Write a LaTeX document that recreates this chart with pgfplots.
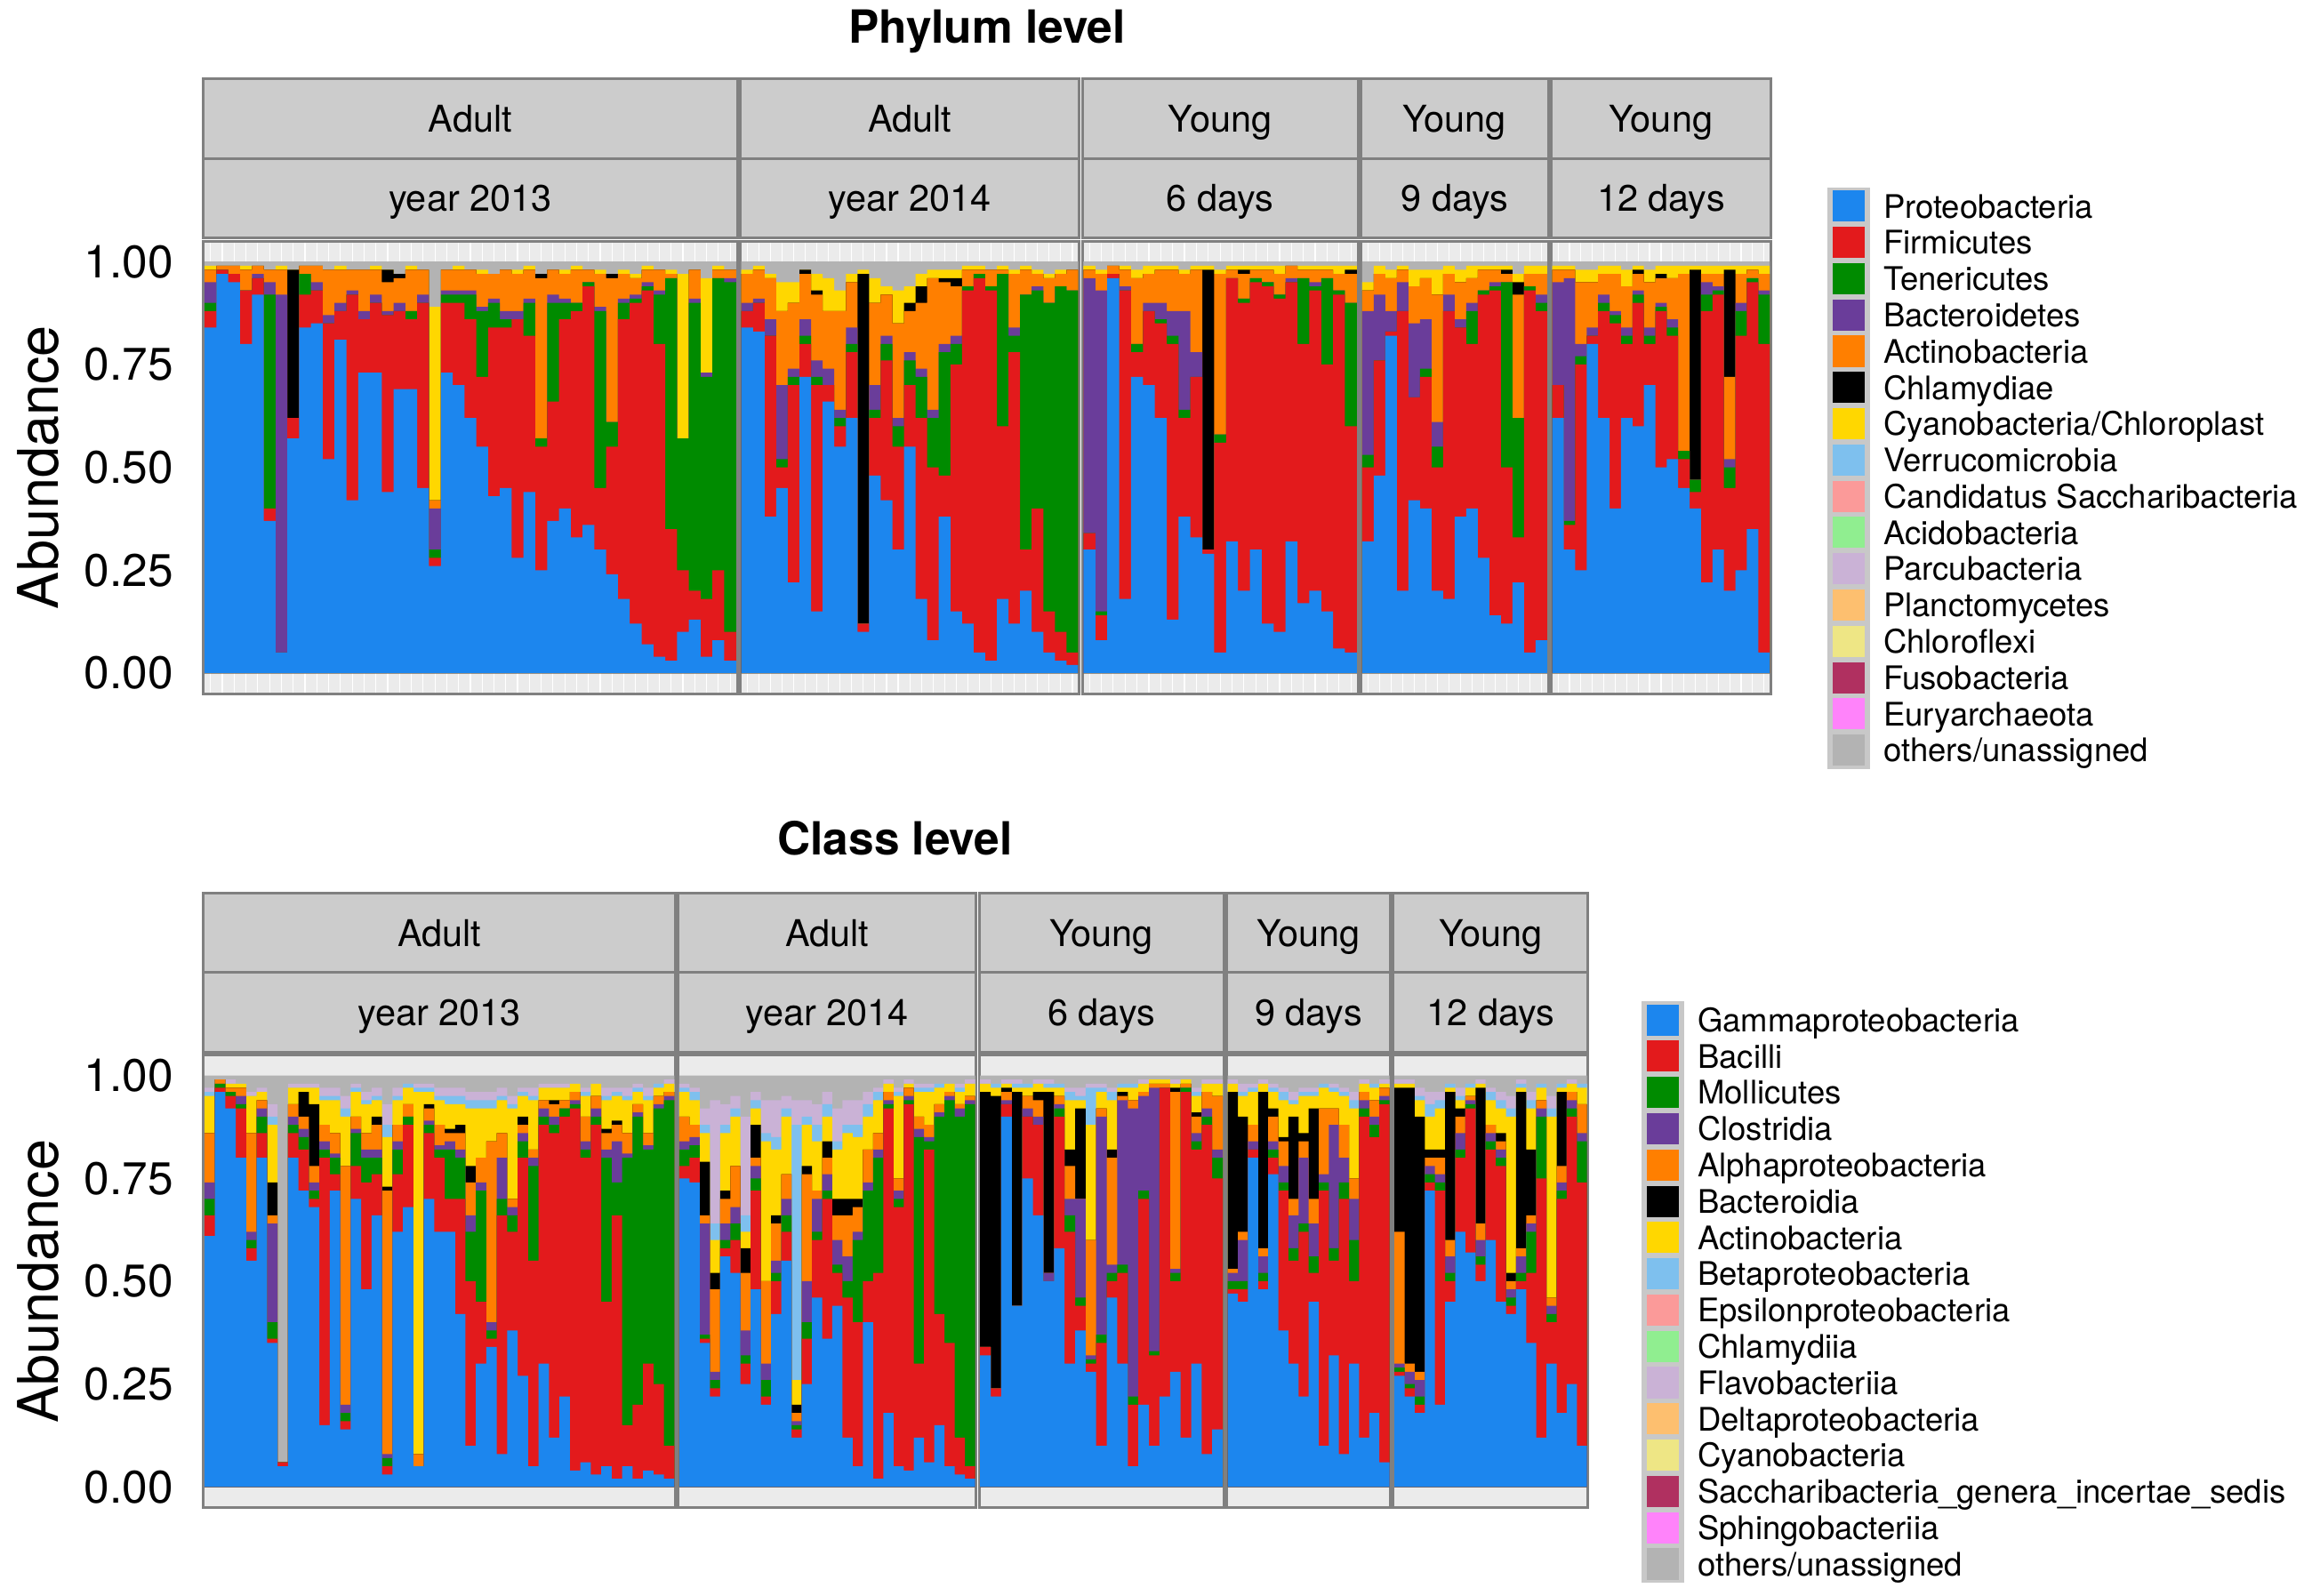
\documentclass[border=0pt]{standalone}
\usepackage{pgfplots}
\pgfplotsset{compat=1.18}
\usepackage{pgfplotstable}
\usepackage{fontspec}
\setmainfont{TeX Gyre Heros}

\definecolor{cP}{HTML}{1C86EE}
\definecolor{cF}{HTML}{E31A1C}
\definecolor{cT}{HTML}{008B00}
\definecolor{cB}{HTML}{6A3D9A}
\definecolor{cA}{HTML}{FF7F00}
\definecolor{cC}{HTML}{000000}
\definecolor{cY}{HTML}{FFD700}
\definecolor{cV}{HTML}{7EC0EE}
\definecolor{cCa}{HTML}{FB9A99}
\definecolor{cAc}{HTML}{90EE90}
\definecolor{cPa}{HTML}{CAB2D6}
\definecolor{cPl}{HTML}{FDBF6F}
\definecolor{cCh}{HTML}{EEE685}
\definecolor{cFu}{HTML}{B03060}
\definecolor{cEu}{HTML}{FF83FA}
\definecolor{cO}{HTML}{B3B3B3}
\definecolor{panelbg}{HTML}{EBEBEB}
\definecolor{stripbg}{HTML}{CCCCCC}
\definecolor{bordergray}{HTML}{808080}
\definecolor{keybg}{HTML}{C8C8C8}

\newcommand{\tickfont}{\fontsize{15.5}{18}\selectfont}
\newcommand{\labfont}{\fontsize{19}{22}\selectfont}
\newcommand{\stripfont}{\fontsize{12.5}{15}\selectfont}
\newcommand{\legfont}{\fontsize{11}{13}\selectfont}
\newcommand{\titlefont}{\fontsize{15.5}{18}\selectfont\bfseries}

\pgfplotsset{
  bars/.style={ybar, bar width=1, bar shift=0pt, draw=none},
  facet/.style={scale only axis, anchor=south west, height=153.5pt,
    ymin=-0.05, ymax=1.05, xmin=0.4,
    axis background/.style={fill=panelbg},
    axis line style={draw=bordergray, line width=0.9pt},
    ytick={0,0.25,0.5,0.75,1}, yticklabels={},
    major tick length=0pt, xticklabels={},
    /pgf/number format/assume math mode=true},
  stripes/.style={xtick={1,...,#1}, xmajorgrids, major grid style={white, line width=0.35pt}},
  nostripes/.style={xtick=\empty},
  first/.style={yticklabels={0.00,0.25,0.50,0.75,1.00},
    yticklabel style={font=\tickfont, anchor=east, inner sep=0pt, xshift=-10pt},
    ylabel={Abundance},
    every axis y label/.style={at={(axis description cs:#1,0.5)}, rotate=90, anchor=center, font=\labfont}},
  legaxis/.style={at={(0pt,0pt)}, anchor=south west, scale only axis, width=784pt, height=541.25pt,
    xmin=0, xmax=1, ymin=0, ymax=1, hide axis, legend cell align=left,
    legend image code/.code={\fill[keybg,overlay] (-1.6pt,-6.15pt) rectangle (12.4pt,6.15pt);
      \path[fill,##1,draw=none] (0pt,-5.3pt) rectangle (10.8pt,5.3pt); \path (17pt,0pt);},
    legend style={draw=none, fill=none, inner sep=0pt, outer sep=0pt, row sep=0pt,
      anchor=north west, font=\legfont, nodes={inner sep=0pt, text height=10.15pt, text depth=2.15pt}}},
}

\newcommand{\phy}[1]{%
  \addplot[bars, fill=cO] table[x=x,y=O]{#1};
  \addplot[bars, fill=cY] table[x=x,y=Y]{#1};
  \addplot[bars, fill=cC] table[x=x,y=C]{#1};
  \addplot[bars, fill=cA] table[x=x,y=A]{#1};
  \addplot[bars, fill=cB] table[x=x,y=B]{#1};
  \addplot[bars, fill=cT] table[x=x,y=T]{#1};
  \addplot[bars, fill=cF] table[x=x,y=F]{#1};
  \addplot[bars, fill=cP] table[x=x,y=P]{#1};
}
\newcommand{\cls}[1]{%
  \addplot[bars, fill=cO] table[x=x,y=O]{#1};
  \addplot[bars, fill=cPa] table[x=x,y=Fl]{#1};
  \addplot[bars, fill=cV] table[x=x,y=Be]{#1};
  \addplot[bars, fill=cY] table[x=x,y=Ac]{#1};
  \addplot[bars, fill=cC] table[x=x,y=Bd]{#1};
  \addplot[bars, fill=cA] table[x=x,y=Al]{#1};
  \addplot[bars, fill=cB] table[x=x,y=Cl]{#1};
  \addplot[bars, fill=cT] table[x=x,y=M]{#1};
  \addplot[bars, fill=cF] table[x=x,y=Ba]{#1};
  \addplot[bars, fill=cP] table[x=x,y=G]{#1};
}
\newcommand{\legimg}[2]{\addlegendimage{fill=#1}\addlegendentry{#2}}
\tikzset{stripst/.style={fill=stripbg, draw=bordergray, line width=0.9pt},
  striptext/.style={font=\stripfont, text height=9pt, text depth=0pt, inner sep=0pt, anchor=center}}
\newcommand{\strips}[5]{%
  \begin{scope}[shift={(0pt,#3pt)}]
    \draw[stripst] (#1pt,0pt) rectangle (#2pt,27pt);
    \draw[stripst] (#1pt,27pt) rectangle (#2pt,54pt);
    \node[striptext] at ({(#1+#2)/2*1pt},13.5pt) {#5};
    \node[striptext] at ({(#1+#2)/2*1pt},40.5pt) {#4};
  \end{scope}}

% ---------------- Phylum level (cumulative tops, bottom to top) ----------------
\pgfplotstableread{
x P F T B A C Y O
1 0.84 0.88 0.90 0.95 0.98 0.98 0.99 1
2 0.97 0.98 0.98 0.98 0.99 0.99 0.99 1
3 0.95 0.97 0.97 0.97 0.99 0.99 0.99 1
4 0.80 0.93 0.93 0.93 0.98 0.98 0.99 1
5 0.92 0.96 0.96 0.97 0.99 0.99 0.99 1
6 0.37 0.40 0.92 0.95 0.98 0.98 0.98 1
7 0.05 0.05 0.05 0.92 0.98 0.98 0.99 1
8 0.57 0.62 0.62 0.62 0.62 0.98 0.98 1
9 0.84 0.92 0.97 0.97 0.99 0.99 0.99 1
10 0.85 0.93 0.93 0.95 0.99 0.99 0.99 1
11 0.52 0.85 0.85 0.87 0.98 0.98 0.98 1
12 0.81 0.88 0.88 0.90 0.98 0.98 0.99 1
13 0.42 0.92 0.92 0.93 0.98 0.98 0.98 1
14 0.73 0.86 0.86 0.88 0.98 0.98 0.98 1
15 0.73 0.90 0.90 0.92 0.98 0.98 0.99 1
16 0.44 0.87 0.87 0.88 0.95 0.98 0.98 1
17 0.69 0.88 0.88 0.90 0.96 0.97 0.97 1
18 0.69 0.86 0.88 0.88 0.98 0.98 0.99 1
19 0.45 0.90 0.90 0.92 0.98 0.98 0.98 1
20 0.26 0.28 0.30 0.40 0.42 0.42 0.89 1
21 0.73 0.90 0.92 0.93 0.98 0.98 0.98 1
22 0.70 0.90 0.92 0.93 0.98 0.98 0.99 1
23 0.62 0.86 0.92 0.93 0.98 0.98 0.98 1
24 0.55 0.72 0.88 0.89 0.97 0.97 0.98 1
25 0.43 0.84 0.90 0.91 0.97 0.97 0.97 1
26 0.45 0.84 0.86 0.88 0.98 0.98 0.98 1
27 0.28 0.86 0.86 0.88 0.97 0.97 0.98 1
28 0.44 0.82 0.90 0.91 0.98 0.98 0.99 1
29 0.25 0.55 0.57 0.57 0.96 0.97 0.97 1
30 0.37 0.66 0.90 0.92 0.98 0.98 0.98 1
31 0.40 0.86 0.90 0.91 0.97 0.97 0.98 1
32 0.33 0.88 0.90 0.90 0.98 0.98 0.99 1
33 0.36 0.94 0.95 0.95 0.98 0.98 0.98 1
34 0.30 0.45 0.88 0.89 0.97 0.97 0.98 1
35 0.24 0.55 0.61 0.61 0.96 0.97 0.97 1
36 0.18 0.86 0.90 0.91 0.97 0.97 0.98 1
37 0.12 0.90 0.91 0.92 0.96 0.96 0.97 1
38 0.07 0.93 0.94 0.95 0.98 0.98 0.99 1
39 0.04 0.80 0.92 0.93 0.98 0.98 0.98 1
40 0.03 0.35 0.96 0.96 0.97 0.97 0.98 1
41 0.10 0.25 0.57 0.57 0.57 0.57 0.97 1
42 0.13 0.20 0.90 0.91 0.98 0.98 0.98 1
43 0.04 0.18 0.72 0.73 0.73 0.73 0.96 1
44 0.08 0.25 0.96 0.96 0.98 0.98 0.99 1
45 0.03 0.10 0.95 0.96 0.98 0.98 0.98 1
}\tPa
\pgfplotstableread{
x P F T B A C Y O
1 0.84 0.88 0.88 0.90 0.97 0.97 0.98 1
2 0.83 0.90 0.90 0.91 0.98 0.98 0.99 1
3 0.38 0.82 0.82 0.86 0.96 0.96 0.97 1
4 0.45 0.50 0.52 0.70 0.88 0.88 0.95 1
5 0.22 0.70 0.72 0.74 0.90 0.90 0.95 1
6 0.72 0.80 0.82 0.86 0.97 0.98 0.98 1
7 0.15 0.70 0.72 0.76 0.92 0.93 0.97 1
8 0.66 0.70 0.70 0.74 0.88 0.88 0.96 1
9 0.55 0.60 0.62 0.64 0.88 0.88 0.93 1
10 0.62 0.78 0.80 0.84 0.95 0.95 0.97 1
11 0.10 0.12 0.12 0.12 0.12 0.97 0.98 1
12 0.48 0.62 0.64 0.70 0.90 0.90 0.96 1
13 0.42 0.76 0.80 0.82 0.92 0.92 0.94 1
14 0.30 0.55 0.60 0.62 0.85 0.85 0.93 1
15 0.55 0.70 0.76 0.78 0.88 0.90 0.94 1
16 0.18 0.62 0.72 0.74 0.90 0.94 0.97 1
17 0.08 0.50 0.62 0.64 0.96 0.96 0.98 1
18 0.38 0.48 0.78 0.80 0.95 0.96 0.98 1
19 0.15 0.75 0.80 0.82 0.94 0.96 0.98 1
20 0.12 0.93 0.94 0.94 0.98 0.98 0.99 1
21 0.05 0.96 0.97 0.97 0.98 0.98 0.99 1
22 0.03 0.93 0.94 0.94 0.98 0.98 0.98 1
23 0.18 0.60 0.97 0.97 0.98 0.98 0.99 1
24 0.12 0.78 0.82 0.84 0.97 0.97 0.98 1
25 0.20 0.30 0.92 0.92 0.98 0.98 0.99 1
26 0.10 0.40 0.93 0.94 0.97 0.97 0.98 1
27 0.05 0.15 0.90 0.90 0.96 0.96 0.97 1
28 0.03 0.10 0.94 0.94 0.97 0.97 0.98 1
29 0.02 0.05 0.93 0.93 0.98 0.98 0.98 1
}\tPb
\pgfplotstableread{
x P F T B A C Y O
1 0.30 0.34 0.34 0.96 0.98 0.98 0.99 1
2 0.08 0.14 0.15 0.93 0.97 0.97 0.98 1
3 0.96 0.97 0.97 0.97 0.99 0.99 0.99 1
4 0.18 0.93 0.93 0.94 0.98 0.98 0.99 1
5 0.72 0.78 0.80 0.80 0.96 0.96 0.98 1
6 0.70 0.88 0.88 0.90 0.97 0.97 0.99 1
7 0.62 0.85 0.86 0.90 0.98 0.98 0.99 1
8 0.13 0.80 0.82 0.88 0.98 0.98 0.99 1
9 0.38 0.62 0.64 0.88 0.97 0.97 0.98 1
10 0.33 0.72 0.72 0.78 0.98 0.98 0.99 1
11 0.29 0.30 0.30 0.30 0.30 0.98 0.99 1
12 0.05 0.56 0.58 0.58 0.97 0.97 0.98 1
13 0.32 0.96 0.96 0.96 0.98 0.98 0.99 1
14 0.20 0.90 0.91 0.91 0.97 0.98 0.99 1
15 0.30 0.95 0.96 0.96 0.98 0.98 0.99 1
16 0.12 0.94 0.95 0.95 0.98 0.98 0.99 1
17 0.10 0.91 0.92 0.92 0.97 0.97 0.99 1
18 0.32 0.95 0.95 0.96 0.99 0.99 0.99 1
19 0.17 0.80 0.96 0.96 0.98 0.98 0.99 1
20 0.20 0.93 0.94 0.95 0.98 0.98 0.99 1
21 0.15 0.75 0.96 0.96 0.98 0.98 0.99 1
22 0.06 0.92 0.93 0.93 0.97 0.97 0.99 1
23 0.05 0.60 0.90 0.90 0.97 0.98 0.99 1
}\tPc
\pgfplotstableread{
x P F T B A C Y O
1 0.32 0.50 0.53 0.88 0.93 0.93 0.95 1
2 0.48 0.76 0.76 0.92 0.97 0.97 0.99 1
3 0.82 0.83 0.83 0.88 0.96 0.96 0.98 1
4 0.20 0.88 0.88 0.95 0.98 0.98 0.99 1
5 0.42 0.67 0.67 0.85 0.94 0.94 0.98 1
6 0.40 0.72 0.74 0.86 0.96 0.96 0.98 1
7 0.20 0.50 0.55 0.61 0.92 0.92 0.98 1
8 0.18 0.88 0.88 0.92 0.97 0.97 0.99 1
9 0.38 0.84 0.84 0.86 0.95 0.95 0.98 1
10 0.40 0.80 0.88 0.90 0.96 0.96 0.99 1
11 0.28 0.92 0.93 0.93 0.98 0.98 0.99 1
12 0.14 0.93 0.94 0.95 0.98 0.98 0.99 1
13 0.12 0.50 0.95 0.95 0.97 0.98 0.99 1
14 0.22 0.33 0.62 0.62 0.92 0.95 0.97 1
15 0.05 0.93 0.94 0.94 0.97 0.97 0.99 1
16 0.08 0.88 0.90 0.92 0.97 0.97 0.99 1
}\tPd
\pgfplotstableread{
x P F T B A C Y O
1 0.62 0.70 0.70 0.95 0.98 0.98 0.99 1
2 0.30 0.36 0.37 0.96 0.98 0.98 0.99 1
3 0.25 0.75 0.77 0.80 0.95 0.95 0.98 1
4 0.80 0.82 0.82 0.84 0.95 0.95 0.98 1
5 0.62 0.88 0.90 0.92 0.97 0.97 0.99 1
6 0.40 0.85 0.87 0.88 0.97 0.97 0.99 1
7 0.62 0.80 0.82 0.84 0.94 0.94 0.98 1
8 0.60 0.90 0.92 0.93 0.97 0.98 0.99 1
9 0.70 0.80 0.82 0.84 0.95 0.95 0.98 1
10 0.50 0.88 0.89 0.90 0.96 0.97 0.99 1
11 0.52 0.82 0.84 0.86 0.96 0.96 0.99 1
12 0.45 0.52 0.54 0.54 0.97 0.97 0.99 1
13 0.40 0.44 0.47 0.47 0.47 0.98 0.99 1
14 0.22 0.88 0.92 0.95 0.97 0.97 0.99 1
15 0.30 0.92 0.93 0.94 0.97 0.97 0.99 1
16 0.20 0.45 0.50 0.52 0.72 0.98 0.99 1
17 0.25 0.82 0.88 0.90 0.97 0.97 0.99 1
18 0.35 0.95 0.96 0.96 0.98 0.98 0.99 1
19 0.05 0.80 0.92 0.93 0.97 0.97 0.99 1
}\tPe

% ---------------- Class level (cumulative tops, bottom to top) ----------------
\pgfplotstableread{
x G Ba M Cl Al Bd Ac Be Fl O
1 0.61 0.66 0.70 0.74 0.86 0.86 0.95 0.96 0.97 1
2 0.96 0.97 0.98 0.98 0.99 0.99 0.99 0.99 0.99 1
3 0.92 0.95 0.96 0.96 0.97 0.97 0.98 0.98 0.99 1
4 0.80 0.92 0.93 0.95 0.97 0.97 0.98 0.98 0.98 1
5 0.55 0.58 0.60 0.62 0.86 0.86 0.95 0.95 0.96 1
6 0.80 0.86 0.90 0.92 0.94 0.94 0.96 0.96 0.97 1
7 0.35 0.36 0.40 0.64 0.66 0.74 0.88 0.90 0.93 1
8 0.05 0.06 0.06 0.06 0.06 0.06 0.06 0.06 0.06 1
9 0.80 0.86 0.88 0.90 0.93 0.93 0.97 0.97 0.98 1
10 0.72 0.82 0.85 0.87 0.90 0.96 0.97 0.97 0.98 1
11 0.68 0.70 0.72 0.74 0.78 0.93 0.97 0.97 0.98 1
12 0.15 0.80 0.82 0.84 0.88 0.88 0.94 0.95 0.97 1
13 0.72 0.76 0.80 0.81 0.86 0.86 0.94 0.95 0.97 1
14 0.14 0.16 0.18 0.20 0.78 0.78 0.90 0.92 0.95 1
15 0.70 0.78 0.86 0.87 0.90 0.90 0.96 0.97 0.98 1
16 0.48 0.74 0.80 0.82 0.86 0.86 0.93 0.94 0.96 1
17 0.66 0.76 0.80 0.82 0.88 0.90 0.94 0.95 0.97 1
18 0.03 0.05 0.07 0.08 0.72 0.73 0.85 0.88 0.93 1
19 0.62 0.76 0.82 0.84 0.88 0.88 0.94 0.95 0.97 1
20 0.68 0.88 0.90 0.90 0.93 0.93 0.97 0.98 0.98 1
21 0.05 0.05 0.05 0.05 0.08 0.08 0.96 0.97 0.98 1
22 0.70 0.86 0.88 0.89 0.92 0.93 0.96 0.97 0.98 1
23 0.62 0.80 0.82 0.83 0.88 0.88 0.94 0.95 0.97 1
24 0.62 0.70 0.82 0.84 0.86 0.87 0.93 0.95 0.97 1
25 0.42 0.70 0.80 0.82 0.86 0.88 0.93 0.95 0.97 1
26 0.10 0.50 0.62 0.66 0.74 0.78 0.92 0.94 0.96 1
27 0.30 0.45 0.72 0.74 0.80 0.80 0.92 0.94 0.96 1
28 0.34 0.36 0.38 0.40 0.84 0.84 0.92 0.94 0.96 1
29 0.08 0.66 0.70 0.80 0.86 0.86 0.94 0.95 0.97 1
30 0.38 0.62 0.66 0.68 0.70 0.70 0.92 0.93 0.95 1
31 0.27 0.80 0.84 0.86 0.88 0.90 0.95 0.96 0.97 1
32 0.05 0.55 0.78 0.80 0.82 0.82 0.94 0.95 0.97 1
33 0.30 0.88 0.90 0.92 0.94 0.94 0.97 0.97 0.98 1
34 0.12 0.86 0.88 0.90 0.93 0.94 0.97 0.97 0.98 1
35 0.22 0.90 0.92 0.92 0.94 0.94 0.97 0.97 0.98 1
36 0.04 0.92 0.93 0.94 0.96 0.96 0.98 0.98 0.98 1
37 0.06 0.80 0.82 0.84 0.90 0.90 0.95 0.96 0.97 1
38 0.03 0.88 0.90 0.92 0.95 0.95 0.98 0.98 0.98 1
39 0.05 0.45 0.80 0.82 0.86 0.87 0.94 0.95 0.97 1
40 0.02 0.66 0.74 0.84 0.88 0.89 0.95 0.96 0.97 1
41 0.05 0.15 0.80 0.81 0.86 0.86 0.94 0.95 0.97 1
42 0.02 0.20 0.90 0.91 0.93 0.93 0.96 0.97 0.98 1
43 0.04 0.30 0.82 0.83 0.86 0.86 0.94 0.95 0.97 1
44 0.03 0.25 0.92 0.93 0.95 0.95 0.97 0.98 0.98 1
45 0.02 0.10 0.94 0.95 0.96 0.96 0.98 0.98 0.99 1
}\tCa
\pgfplotstableread{
x G Ba M Cl Al Bd Ac Be Fl O
1 0.75 0.78 0.82 0.84 0.90 0.90 0.96 0.97 0.98 1
2 0.74 0.80 0.83 0.85 0.88 0.88 0.94 0.96 0.97 1
3 0.35 0.36 0.37 0.64 0.66 0.79 0.86 0.88 0.92 1
4 0.22 0.24 0.26 0.28 0.48 0.52 0.60 0.64 0.94 1
5 0.56 0.58 0.60 0.64 0.70 0.72 0.86 0.88 0.93 1
6 0.52 0.60 0.64 0.68 0.78 0.78 0.90 0.92 0.95 1
7 0.25 0.30 0.32 0.38 0.52 0.58 0.62 0.66 0.90 1
8 0.48 0.72 0.75 0.78 0.80 0.88 0.92 0.94 0.96 1
9 0.20 0.22 0.26 0.30 0.50 0.50 0.84 0.86 0.94 1
10 0.42 0.50 0.52 0.55 0.64 0.66 0.82 0.85 0.94 1
11 0.55 0.62 0.66 0.70 0.76 0.76 0.90 0.92 0.95 1
12 0.12 0.14 0.15 0.16 0.18 0.20 0.26 0.88 0.94 1
13 0.25 0.36 0.40 0.50 0.76 0.78 0.88 0.90 0.94 1
14 0.46 0.60 0.62 0.70 0.72 0.72 0.84 0.88 0.93 1
15 0.36 0.70 0.72 0.76 0.80 0.84 0.90 0.93 0.96 1
16 0.44 0.52 0.54 0.60 0.66 0.70 0.82 0.84 0.92 1
17 0.12 0.46 0.50 0.56 0.66 0.70 0.86 0.88 0.94 1
18 0.05 0.40 0.60 0.62 0.68 0.70 0.85 0.88 0.94 1
19 0.40 0.50 0.72 0.74 0.82 0.82 0.90 0.93 0.96 1
20 0.02 0.52 0.80 0.82 0.86 0.86 0.94 0.96 0.97 1
21 0.18 0.92 0.93 0.94 0.96 0.96 0.98 0.98 0.99 1
22 0.05 0.68 0.70 0.72 0.75 0.75 0.95 0.96 0.97 1
23 0.04 0.93 0.94 0.95 0.97 0.97 0.98 0.98 0.99 1
24 0.12 0.30 0.85 0.87 0.90 0.90 0.96 0.97 0.98 1
25 0.06 0.82 0.84 0.85 0.88 0.88 0.96 0.97 0.98 1
26 0.15 0.42 0.90 0.91 0.93 0.93 0.97 0.98 0.98 1
27 0.05 0.35 0.94 0.95 0.96 0.96 0.98 0.98 0.98 1
28 0.03 0.12 0.90 0.92 0.93 0.93 0.96 0.97 0.98 1
29 0.02 0.05 0.93 0.94 0.95 0.95 0.98 0.98 0.99 1
}\tCb
\pgfplotstableread{
x G Ba M Cl Al Bd Ac Be Fl O
1 0.32 0.34 0.34 0.34 0.34 0.96 0.98 0.98 0.99 1
2 0.22 0.24 0.24 0.24 0.24 0.95 0.97 0.98 0.98 1
3 0.90 0.93 0.93 0.94 0.96 0.97 0.98 0.98 0.99 1
4 0.44 0.44 0.44 0.44 0.44 0.96 0.97 0.98 0.99 1
5 0.75 0.90 0.90 0.92 0.95 0.95 0.97 0.98 0.98 1
6 0.66 0.88 0.88 0.90 0.94 0.96 0.98 0.98 0.99 1
7 0.50 0.50 0.50 0.52 0.52 0.96 0.97 0.98 0.99 1
8 0.58 0.90 0.92 0.93 0.95 0.95 0.97 0.98 0.98 1
9 0.30 0.62 0.66 0.70 0.78 0.82 0.94 0.96 0.97 1
10 0.38 0.44 0.46 0.70 0.70 0.92 0.94 0.95 0.97 1
11 0.28 0.30 0.31 0.32 0.60 0.60 0.88 0.97 0.98 1
12 0.10 0.35 0.37 0.90 0.92 0.92 0.96 0.97 0.98 1
13 0.46 0.50 0.52 0.54 0.80 0.82 0.94 0.96 0.97 1
14 0.30 0.52 0.54 0.94 0.95 0.96 0.97 0.98 0.98 1
15 0.05 0.20 0.22 0.92 0.94 0.94 0.97 0.98 0.98 1
16 0.20 0.70 0.72 0.95 0.96 0.96 0.98 0.98 0.99 1
17 0.10 0.32 0.33 0.97 0.98 0.98 0.99 0.99 0.99 1
18 0.22 0.97 0.97 0.97 0.98 0.98 0.99 0.99 0.99 1
19 0.28 0.50 0.52 0.53 0.96 0.97 0.98 0.98 0.99 1
20 0.12 0.96 0.97 0.97 0.98 0.98 0.99 0.99 0.99 1
21 0.30 0.82 0.84 0.86 0.90 0.91 0.95 0.96 0.97 1
22 0.08 0.88 0.90 0.92 0.96 0.96 0.98 0.98 0.99 1
23 0.14 0.75 0.80 0.82 0.95 0.95 0.98 0.98 0.99 1
}\tCc
\pgfplotstableread{
x G Ba M Cl Al Bd Ac Be Fl O
1 0.47 0.48 0.50 0.52 0.53 0.96 0.98 0.98 0.99 1
2 0.45 0.48 0.50 0.60 0.62 0.90 0.95 0.96 0.98 1
3 0.80 0.82 0.82 0.84 0.88 0.88 0.96 0.97 0.98 1
4 0.48 0.50 0.52 0.56 0.58 0.96 0.98 0.98 0.99 1
5 0.76 0.80 0.82 0.84 0.90 0.92 0.96 0.97 0.98 1
6 0.38 0.72 0.74 0.78 0.84 0.85 0.94 0.96 0.97 1
7 0.30 0.55 0.58 0.66 0.70 0.90 0.93 0.94 0.96 1
8 0.22 0.62 0.64 0.80 0.84 0.86 0.95 0.96 0.97 1
9 0.45 0.52 0.56 0.64 0.70 0.92 0.95 0.96 0.97 1
10 0.10 0.72 0.74 0.76 0.92 0.92 0.97 0.98 0.98 1
11 0.32 0.55 0.58 0.88 0.92 0.92 0.96 0.97 0.98 1
12 0.08 0.70 0.74 0.80 0.88 0.88 0.95 0.96 0.97 1
13 0.30 0.50 0.60 0.70 0.75 0.75 0.92 0.94 0.96 1
14 0.12 0.90 0.92 0.94 0.96 0.96 0.98 0.98 0.99 1
15 0.18 0.85 0.88 0.90 0.94 0.94 0.97 0.98 0.98 1
16 0.06 0.93 0.94 0.95 0.97 0.97 0.98 0.98 0.99 1
}\tCd
\pgfplotstableread{
x G Ba M Cl Al Bd Ac Be Fl O
1 0.27 0.28 0.29 0.30 0.62 0.97 0.98 0.98 0.99 1
2 0.22 0.24 0.25 0.28 0.30 0.97 0.98 0.98 0.99 1
3 0.18 0.20 0.22 0.26 0.28 0.90 0.94 0.95 0.97 1
4 0.72 0.74 0.76 0.78 0.80 0.82 0.90 0.93 0.96 1
5 0.20 0.72 0.74 0.76 0.80 0.82 0.92 0.94 0.96 1
6 0.45 0.50 0.52 0.56 0.60 0.96 0.97 0.98 0.98 1
7 0.62 0.80 0.82 0.86 0.90 0.92 0.94 0.95 0.97 1
8 0.57 0.92 0.93 0.94 0.95 0.95 0.97 0.98 0.98 1
9 0.50 0.54 0.56 0.60 0.64 0.97 0.98 0.98 0.99 1
10 0.60 0.82 0.84 0.86 0.88 0.88 0.94 0.96 0.97 1
11 0.45 0.78 0.80 0.82 0.84 0.86 0.92 0.94 0.96 1
12 0.42 0.44 0.46 0.48 0.50 0.52 0.90 0.92 0.95 1
13 0.48 0.50 0.52 0.56 0.58 0.96 0.97 0.98 0.99 1
14 0.35 0.52 0.62 0.64 0.66 0.82 0.92 0.94 0.96 1
15 0.12 0.75 0.90 0.92 0.94 0.94 0.97 0.98 0.98 1
16 0.30 0.40 0.42 0.44 0.46 0.46 0.90 0.92 0.95 1
17 0.18 0.70 0.72 0.74 0.78 0.96 0.97 0.98 0.98 1
18 0.25 0.90 0.92 0.94 0.96 0.96 0.98 0.98 0.99 1
19 0.10 0.74 0.84 0.86 0.93 0.93 0.97 0.98 0.98 1
}\tCe

\begin{document}
\begin{tikzpicture}
\path[use as bounding box] (0pt,0pt) rectangle (784pt,541.25pt);

% ===== Phylum level =====
\begin{axis}[facet, stripes=45, first=-0.3094, at={(69pt,306pt)}, width=181pt, xmax=45.6]
\phy{\tPa}
\end{axis}
\begin{axis}[facet, stripes=29, at={(251pt,306pt)}, width=115pt, xmax=29.6]
\phy{\tPb}
\end{axis}
\begin{axis}[facet, stripes=23, at={(367pt,306pt)}, width=93.5pt, xmax=23.6]
\phy{\tPc}
\end{axis}
\begin{axis}[facet, stripes=16, at={(461.5pt,306pt)}, width=63.5pt, xmax=16.6]
\phy{\tPd}
\end{axis}
\begin{axis}[facet, stripes=19, at={(526pt,306pt)}, width=74.5pt, xmax=19.6]
\phy{\tPe}
\end{axis}

% ===== Class level =====
\begin{axis}[facet, nostripes, first=-0.35, at={(69pt,30pt)}, width=160pt, xmax=45.6]
\cls{\tCa}
\end{axis}
\begin{axis}[facet, nostripes, at={(230pt,30pt)}, width=101pt, xmax=29.6]
\cls{\tCb}
\end{axis}
\begin{axis}[facet, nostripes, at={(332pt,30pt)}, width=83pt, xmax=23.6]
\cls{\tCc}
\end{axis}
\begin{axis}[facet, nostripes, at={(416pt,30pt)}, width=55.5pt, xmax=16.6]
\cls{\tCd}
\end{axis}
\begin{axis}[facet, nostripes, at={(472.5pt,30pt)}, width=66pt, xmax=19.6]
\cls{\tCe}
\end{axis}

% strips
\strips{69}{250}{460.5}{Adult}{year 2013}
\strips{251}{366}{460.5}{Adult}{year 2014}
\strips{367}{460.5}{460.5}{Young}{6 days}
\strips{461.5}{525}{460.5}{Young}{9 days}
\strips{526}{600.5}{460.5}{Young}{12 days}
\strips{69}{229}{184.4}{Adult}{year 2013}
\strips{230}{331}{184.4}{Adult}{year 2014}
\strips{332}{415}{184.4}{Young}{6 days}
\strips{416}{471.5}{184.4}{Young}{9 days}
\strips{472.5}{538.5}{184.4}{Young}{12 days}

% titles
\node[font=\titlefont, anchor=base] at (334.75pt,526.5pt) {Phylum level};
\node[font=\titlefont, anchor=base] at (303.5pt,251.25pt) {Class level};

% legends
\begin{axis}[legaxis, legend style={at={(0.79273,0.88222)}}]
\legimg{cP}{Proteobacteria}
\legimg{cF}{Firmicutes}
\legimg{cT}{Tenericutes}
\legimg{cB}{Bacteroidetes}
\legimg{cA}{Actinobacteria}
\legimg{cC}{Chlamydiae}
\legimg{cY}{Cyanobacteria/Chloroplast}
\legimg{cV}{Verrucomicrobia}
\legimg{cCa}{Candidatus Saccharibacteria}
\legimg{cAc}{Acidobacteria}
\legimg{cPa}{Parcubacteria}
\legimg{cPl}{Planctomycetes}
\legimg{cCh}{Chloroflexi}
\legimg{cFu}{Fusobacteria}
\legimg{cEu}{Euryarchaeota}
\legimg{cO}{others/unassigned}
\end{axis}
\begin{axis}[legaxis, legend style={at={(0.71237,0.37229)}}]
\legimg{cP}{Gammaproteobacteria}
\legimg{cF}{Bacilli}
\legimg{cT}{Mollicutes}
\legimg{cB}{Clostridia}
\legimg{cA}{Alphaproteobacteria}
\legimg{cC}{Bacteroidia}
\legimg{cY}{Actinobacteria}
\legimg{cV}{Betaproteobacteria}
\legimg{cCa}{Epsilonproteobacteria}
\legimg{cAc}{Chlamydiia}
\legimg{cPa}{Flavobacteriia}
\legimg{cPl}{Deltaproteobacteria}
\legimg{cCh}{Cyanobacteria}
\legimg{cFu}{Saccharibacteria\_genera\_incertae\_sedis}
\legimg{cEu}{Sphingobacteriia}
\legimg{cO}{others/unassigned}
\end{axis}
\end{tikzpicture}
\end{document}
